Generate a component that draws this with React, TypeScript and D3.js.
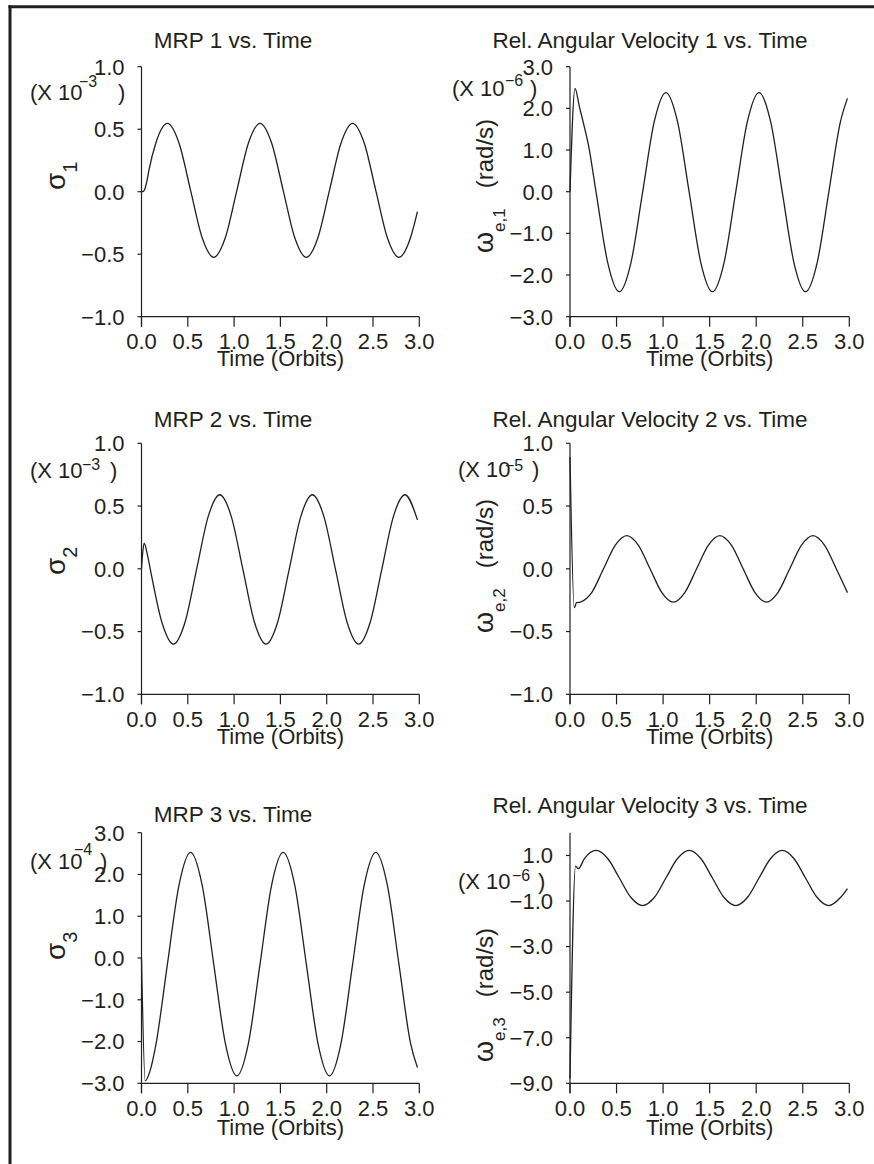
import React from "react";
import * as d3 from "d3";

// ---------- data ----------
const timeTicks = [0, 0.5, 1, 1.5, 2, 2.5, 3];
const mrpTicks = [1, 0.5, 0, -0.5, -1];
const w1Ticks = [3, 2, 1, 0, -1, -2, -3];
const w2Ticks = [1, 0.5, 0, -0.5, -1];
const mrp3Ticks = [3, 2, 1, 0, -1, -2, -3];
const w3Ticks = [1, -1, -3, -5, -7, -9];

const mrp1T = [0, 0.02, 0.04, 0.06, 0.08, 0.155, 0.28, 0.405, 0.53, 0.655, 0.78, 0.905, 1.03, 1.155, 1.28, 1.405, 1.53, 1.655, 1.78, 1.905, 2.03, 2.155, 2.28, 2.405, 2.53, 2.655, 2.78, 2.905, 2.98];
const mrp1V = [0, 0.003, 0.03, 0.09, 0.17, 0.39, 0.547, 0.39, 0.011, -0.368, -0.525, -0.368, 0.011, 0.39, 0.547, 0.39, 0.011, -0.368, -0.525, -0.368, 0.011, 0.39, 0.547, 0.39, 0.011, -0.368, -0.525, -0.368, -0.16];

const w1T = [0, 0.054, 0.1, 0.145, 0.2, 0.28, 0.405, 0.53, 0.655, 0.78, 0.905, 1.03, 1.155, 1.28, 1.405, 1.53, 1.655, 1.78, 1.905, 2.03, 2.155, 2.28, 2.405, 2.53, 2.655, 2.78, 2.905, 2.98];
const w1V = [0, 2.48, 2.05, 1.64, 1.1, -0.01, -1.7, -2.4, -1.7, -0.01, 1.68, 2.38, 1.68, -0.01, -1.7, -2.4, -1.7, -0.01, 1.68, 2.38, 1.68, -0.01, -1.7, -2.4, -1.7, -0.01, 1.68, 2.24];

const mrp2T = [0, 0.012, 0.028, 0.06, 0.095, 0.22, 0.345, 0.47, 0.595, 0.72, 0.845, 0.97, 1.095, 1.22, 1.345, 1.47, 1.595, 1.72, 1.845, 1.97, 2.095, 2.22, 2.345, 2.47, 2.595, 2.72, 2.845, 2.98];
const mrp2V = [0, 0.12, 0.205, 0.125, -0.005, -0.426, -0.6, -0.426, -0.005, 0.416, 0.59, 0.416, -0.005, -0.426, -0.6, -0.426, -0.005, 0.416, 0.59, 0.416, -0.005, -0.426, -0.6, -0.426, -0.005, 0.416, 0.59, 0.39];

const w2T = [0, 0.046, 0.07, 0.11, 0.235, 0.36, 0.485, 0.61, 0.735, 0.86, 0.985, 1.11, 1.235, 1.36, 1.485, 1.61, 1.735, 1.86, 1.985, 2.11, 2.235, 2.36, 2.485, 2.61, 2.735, 2.86, 2.98];
const w2V = [0.89, -0.31, -0.27, -0.265, -0.187, 0, 0.187, 0.265, 0.187, 0, -0.187, -0.265, -0.187, 0, 0.187, 0.265, 0.187, 0, -0.187, -0.265, -0.187, 0, 0.187, 0.265, 0.187, 0, -0.19];

const mrp3T = [0, 0.04, 0.09, 0.155, 0.28, 0.405, 0.53, 0.655, 0.78, 0.905, 1.03, 1.155, 1.28, 1.405, 1.53, 1.655, 1.78, 1.905, 2.03, 2.155, 2.28, 2.405, 2.53, 2.655, 2.78, 2.905, 2.98];
const mrp3V = [0, -2.94, -2.72, -2.08, -0.145, 1.746, 2.53, 1.746, -0.145, -2.036, -2.82, -2.036, -0.145, 1.746, 2.53, 1.746, -0.145, -2.036, -2.82, -2.036, -0.145, 1.746, 2.53, 1.746, -0.145, -2.036, -2.62];

const w3T = [0, 0.06, 0.09, 0.155, 0.28, 0.405, 0.53, 0.655, 0.78, 0.905, 1.03, 1.155, 1.28, 1.405, 1.53, 1.655, 1.78, 1.905, 2.03, 2.155, 2.28, 2.405, 2.53, 2.655, 2.78, 2.905, 2.98];
const w3V = [-8.8, 0.53, 0.42, 0.866, 1.22, 0.866, 0.01, -0.846, -1.2, -0.846, 0.01, 0.866, 1.22, 0.866, 0.01, -0.846, -1.2, -0.846, 0.01, 0.866, 1.22, 0.866, 0.01, -0.846, -1.2, -0.846, -0.45];

// ---------- layout ----------
const FONT = "'Liberation Sans', Arial, Helvetica, sans-serif";
const INK = "#231f20";
const COLS: Record<string, [number, number]> = { left: [141.5, 419.3], right: [570, 849.3] };
const ROWS: [number, number][] = [[66.7, 316.7], [443.3, 694.3], [832.7, 1083.3]];
const XLAB_OFF = [49, 49.5, 52];
const TICK_OFF = [32, 32.5, 33];

type Panel = {
  title: string; col: string; row: number; t: number[]; v: number[];
  domain: [number, number]; ticks: number[]; exp: string;
  titleX: number; titleY: number;
  ex: number; ey: number; sx: number; sy: number; px: number;
  greek: string; sub: string; lx: number; ly: number; unit: boolean;
};

const PANELS: Panel[] = [
  { title: "MRP 1 vs. Time", col: "left", row: 0, t: mrp1T, v: mrp1V, domain: [-1, 1], ticks: mrpTicks, exp: "\u22123",
    titleX: 233, titleY: 48.3, ex: 30, ey: 100, sx: 79, sy: 87, px: 118, greek: "σ", sub: "1", lx: 65, ly: 190, unit: false },
  { title: "Rel. Angular Velocity 1 vs. Time", col: "right", row: 0, t: w1T, v: w1V, domain: [-3, 3], ticks: w1Ticks, exp: "\u22126",
    titleX: 650, titleY: 48.3, ex: 452, ey: 96, sx: 505, sy: 86, px: 530, greek: "ω", sub: "e,1", lx: 493, ly: 253, unit: true },
  { title: "MRP 2 vs. Time", col: "left", row: 1, t: mrp2T, v: mrp2V, domain: [-1, 1], ticks: mrpTicks, exp: "\u22123",
    titleX: 233, titleY: 426.7, ex: 30, ey: 478, sx: 82, sy: 470, px: 110, greek: "σ", sub: "2", lx: 65, ly: 575, unit: false },
  { title: "Rel. Angular Velocity 2 vs. Time", col: "right", row: 1, t: w2T, v: w2V, domain: [-1, 1], ticks: w2Ticks, exp: "\u22125",
    titleX: 650, titleY: 426.7, ex: 458, ey: 477, sx: 505, sy: 471, px: 532, greek: "ω", sub: "e,2", lx: 493, ly: 633, unit: true },
  { title: "MRP 3 vs. Time", col: "left", row: 2, t: mrp3T, v: mrp3V, domain: [-3, 3], ticks: mrp3Ticks, exp: "\u22124",
    titleX: 233, titleY: 821.7, ex: 30, ey: 869, sx: 74, sy: 855, px: 100, greek: "σ", sub: "3", lx: 65, ly: 960, unit: false },
  { title: "Rel. Angular Velocity 3 vs. Time", col: "right", row: 2, t: w3T, v: w3V, domain: [-9, 2], ticks: w3Ticks, exp: "\u22126",
    titleX: 650, titleY: 813.3, ex: 458, ey: 889, sx: 512, sy: 881, px: 538, greek: "ω", sub: "e,3", lx: 493, ly: 1062, unit: true },
];

const fmt = d3.format(".1f");

function PanelView({ p }: { p: Panel }) {
  const [x0, x1] = COLS[p.col];
  const [yTop, yBot] = ROWS[p.row];
  const x = d3.scaleLinear().domain([0, 3]).range([x0, x1]);
  const y = d3.scaleLinear().domain(p.domain).range([yBot, yTop]);
  const pts: [number, number][] = p.t.map((t, i) => [t, p.v[i]]);
  const line = d3.line<[number, number]>()
    .x((d) => x(d[0]))
    .y((d) => y(d[1]))
    .curve(d3.curveMonotoneX);
  const cx = (x0 + x1) / 2;
  return (
    <g fontFamily={FONT} fill={INK}>
      <text x={p.titleX} y={p.titleY} fontSize={22.5} textAnchor="middle">{p.title}</text>
      {/* axes */}
      <line x1={x0} x2={x0} y1={y(p.domain[1])} y2={yBot + 10} stroke={INK} strokeWidth={1.2} />
      <line x1={x0} x2={x1} y1={yBot} y2={yBot} stroke={INK} strokeWidth={1.2} />
      {timeTicks.map((t) => (
        <g key={"xt" + t}>
          <line x1={x(t)} x2={x(t)} y1={yBot} y2={yBot + 10} stroke={INK} strokeWidth={1.2} />
          <text x={x(t)} y={yBot + TICK_OFF[p.row]} fontSize={22} textAnchor="middle">{fmt(t)}</text>
        </g>
      ))}
      {p.ticks.map((v) => (
        <g key={"yt" + v}>
          <line x1={x0 - 4} x2={x0} y1={y(v)} y2={y(v)} stroke={INK} strokeWidth={1.2} />
          <text x={x0 - 17} y={y(v) + 7.8} fontSize={22} textAnchor="end">{fmt(v)}</text>
        </g>
      ))}
      <text x={cx} y={yBot + XLAB_OFF[p.row]} fontSize={22} textAnchor="middle">Time (Orbits)</text>
      {/* exponent */}
      <text x={p.ex} y={p.ey} fontSize={22}>(X 10</text>
      <text x={p.sx} y={p.sy} fontSize={16}>{p.exp}</text>
      <text x={p.px} y={p.ey} fontSize={22}>)</text>
      {/* y label */}
      {p.unit ? (
        <text transform={`translate(${p.lx},${p.ly}) rotate(-90)`} fontSize={27}>
          {p.greek}
          <tspan fontSize={17} dy={12}>{p.sub}</tspan>
          <tspan fontSize={24} dy={-12} dx={20}>(rad/s)</tspan>
        </text>
      ) : (
        <text transform={`translate(${p.lx},${p.ly}) rotate(-90)`} fontSize={28}>
          {p.greek}
          <tspan fontSize={20} dy={12}>{p.sub}</tspan>
        </text>
      )}
      <path d={line(pts) || ""} fill="none" stroke={INK} strokeWidth={1.3} />
    </g>
  );
}

export default function App() {
  return (
    <svg width={874} height={1164} style={{ position: "absolute", left: 0, top: 0, background: "#fff" }}>
      <rect x={0} y={0} width={874} height={1164} fill="#fff" />
      <line x1={8.5} x2={874} y1={6.7} y2={6.7} stroke={INK} strokeWidth={3} />
      <line x1={10} x2={10} y1={5.2} y2={1164} stroke={INK} strokeWidth={3} />
      {PANELS.map((p, i) => <PanelView key={i} p={p} />)}
    </svg>
  );
}
